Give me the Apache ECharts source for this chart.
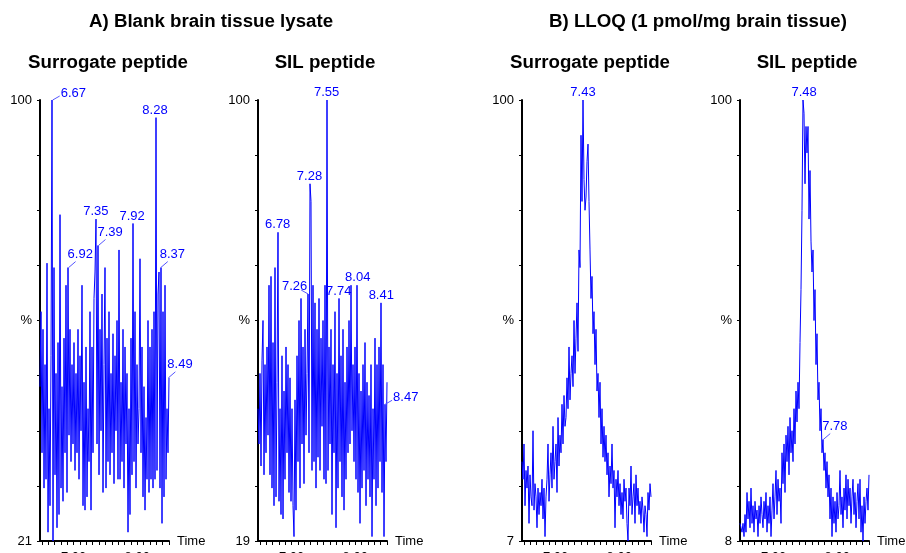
<!DOCTYPE html>
<html>
<head>
<meta charset="utf-8">
<script src="https://cdn.jsdelivr.net/npm/echarts@6/dist/echarts.min.js"></script>
<style>
  html, body { margin: 0; padding: 0; background: #fff; }
  #chart { width: 906px; height: 553px; }
</style>
</head>
<body>
<div id="chart"></div>
<script>
// scan window (min) shared by all four chromatograms
const scanStart = 6.47;
const scanEnd = 8.5;

// relative intensity, one value per scan
const blankSurrogate = [
  35, 52, 20, 48, 12, 40, 14, 63, 2, 30,
  8, 42, 100, 0, 62, 15, 38, 3, 45, 6,
  74, 12, 35, 9, 46, 20, 58, 11, 62, 24,
  48, 18, 40, 22, 45, 16, 38, 20, 48, 14,
  42, 25, 58, 8, 36, 7, 44, 10, 30, 18,
  52, 7, 44, 20, 55, 61, 73, 22, 67, 15,
  48, 25, 56, 11, 40, 62, 12, 46, 18, 52,
  15, 38, 20, 47, 13, 42, 25, 50, 14, 66,
  14, 36, 18, 48, 12, 44, 22, 38, 2, 30,
  6, 46, 15, 72, 18, 52, 12, 40, 22, 30,
  64, 20, 44, 10, 35, 7, 28, 14, 50, 11,
  44, 14, 48, 12, 52, 14, 96, 16, 56, 61,
  12, 62, 4, 52, 10, 58, 14, 30, 20, 37
];
const blankSil = [
  30, 22, 38, 17, 41, 50, 15, 40, 20, 44,
  24, 58, 15, 60, 12, 45, 8, 62, 10, 36,
  70, 9, 30, 6, 42, 5, 34, 14, 44, 20,
  40, 11, 37, 9, 30, 8, 1, 32, 7, 42,
  18, 50, 12, 55, 22, 44, 13, 48, 24, 38,
  56, 20, 81, 77, 16, 58, 18, 54, 12, 48,
  19, 55, 16, 46, 26, 50, 14, 58, 13, 100,
  16, 44, 22, 48, 6, 40, 20, 52, 3, 38,
  12, 55, 18, 42, 10, 48, 7, 36, 14, 44,
  20, 50, 22, 58, 25, 40, 18, 44, 14, 58,
  11, 38, 4, 34, 12, 40, 16, 45, 8, 36,
  14, 33, 10, 40, 1, 30, 14, 46, 8, 40,
  12, 44, 18, 54, 11, 40, 1, 31, 18, 36
];
const lloqSurrogate = [
  18, 14, 22, 8, 16, 12, 17, 4, 15, 10,
  8, 25, 7, 13, 10, 3, 12, 6, 11, 8,
  14, 5, 12, 1, 10, 14, 22, 9, 15, 20,
  12, 26, 14, 18, 22, 11, 28, 17, 24, 20,
  31, 22, 33, 26, 28, 37, 30, 44, 32, 38,
  42, 35, 50, 38, 46, 54, 43, 66, 62, 92,
  77, 100, 82, 75, 78, 86, 90, 77, 66, 55,
  60, 47, 52, 40, 48, 34, 38, 28, 36, 22,
  30, 19, 26, 18, 24, 15, 20, 10, 17, 13,
  22, 12, 16, 3, 14, 10, 16, 8, 13, 6,
  11, 5, 14, 9, 12, 4, 0, 12, 8, 17,
  6, 10, 13, 4, 15, 8, 12, 6, 9, 4,
  10, 7, 2, 8, 6, 1, 11, 7, 13, 10
];
const lloqSil = [
  4, 3, 2, 4, 1, 6, 2, 11, 5, 9,
  3, 12, 4, 8, 2, 9, 5, 7, 1, 8,
  4, 10, 6, 3, 9, 5, 11, 2, 8, 4,
  10, 1, 7, 13, 5, 10, 16, 6, 14, 9,
  12, 4, 20, 13, 22, 11, 24, 18, 26, 15,
  28, 20, 25, 18, 30, 22, 34, 27, 36, 30,
  45, 57, 75, 100, 97, 81, 94, 88, 94, 73,
  84, 68, 61, 66, 50, 57, 40, 47, 32, 36,
  25, 30, 20, 23, 16, 20, 12, 18, 10, 15,
  5, 12, 1, 10, 4, 9, 2, 11, 5, 8,
  16, 6, 10, 3, 12, 7, 15, 5, 14, 8,
  12, 4, 10, 14, 6, 11, 3, 9, 13, 5,
  14, 2, 8, 0, 10, 4, 9, 12, 7, 15
];

// labelled retention times (min)
const blankSurrogatePeaks = [6.67, 6.92, 7.35, 7.39, 7.92, 8.28, 8.37, 8.49];
const blankSilPeaks = [6.78, 7.26, 7.28, 7.55, 7.74, 8.04, 8.41, 8.47];
const lloqSurrogatePeaks = [7.43];
const lloqSilPeaks = [7.48, 7.78];

// text
const headings = ['A) Blank brain tissue lysate', 'B) LLOQ (1 pmol/mg brain tissue)'];
const panelTitles = ['Surrogate peptide', 'SIL peptide', 'Surrogate peptide', 'SIL peptide'];
const baseLabels = ['21', '19', '7', '8'];
const timeTicks = [6.5, 6.6, 6.7, 6.8, 6.9, 7.0, 7.1, 7.2, 7.3, 7.4, 7.5,
  7.6, 7.7, 7.8, 7.9, 8.0, 8.1, 8.2, 8.3, 8.4, 8.5];
const timeLabels = [7, 8];

const FONT = '"Liberation Sans", Arial, sans-serif';
const BLUE = '#0000ff';

// label placement: c = centred above, r = leader up-right, R = leader right, l = leader left
const panels = [
  { values: blankSurrogate, peaks: blankSurrogatePeaks, sides: ['R', 'r', 'c', 'r', 'c', 'c', 'r', 'r'], left: 40, title: 108 },
  { values: blankSil, peaks: blankSilPeaks, sides: ['c', 'l', 'c', 'c', 'c', 'c', 'c', 'R'], left: 258, title: 325 },
  { values: lloqSurrogate, peaks: lloqSurrogatePeaks, sides: ['c'], left: 522, title: 590 },
  { values: lloqSil, peaks: lloqSilPeaks, sides: ['c', 'r'], left: 740, title: 807 }
];

function scanTimes(values) {
  const step = (scanEnd - scanStart) / (values.length - 1);
  return values.map((_, i) => scanStart + i * step);
}

// top of the trace at a labelled time (largest of the nearest scans)
function peakHeight(values, t) {
  const step = (scanEnd - scanStart) / (values.length - 1);
  const k = Math.round((t - scanStart) / step);
  let best = 0;
  for (let j = k - 1; j <= k + 1; j++) {
    if (j >= 0 && j < values.length) best = Math.max(best, values[j]);
  }
  return best;
}

function textStyle(text, align, vAlign) {
  return {
    text, fill: BLUE, fontSize: 13, fontFamily: FONT,
    align, verticalAlign: vAlign, textAlign: align, textVerticalAlign: vAlign
  };
}

function drawPeakLabel(api, side) {
  const t = api.value(0);
  const [x, y] = api.coord([t, api.value(1)]);
  const text = t.toFixed(2);
  if (side === 'c') {
    return { type: 'text', x: x, y: y - 1, style: textStyle(text, 'center', 'bottom') };
  }
  let lead, tx, ty, align, vAlign;
  if (side === 'r') { lead = [x + 7, y - 6]; tx = x - 1; ty = y - 7; align = 'left'; vAlign = 'bottom'; }
  else if (side === 'R') { lead = [x + 7, y - 4]; tx = x + 8; ty = y - 7; align = 'left'; vAlign = 'middle'; }
  else { lead = [x - 7, y - 4]; tx = x - 1; ty = y - 1; align = 'right'; vAlign = 'bottom'; }
  return {
    type: 'group',
    children: [
      { type: 'line', shape: { x1: x, y1: y, x2: lead[0], y2: lead[1] }, style: { stroke: '#5555ff', lineWidth: 1 } },
      { type: 'text', x: tx, y: ty, style: textStyle(text, align, vAlign) }
    ]
  };
}

const chart = echarts.init(document.getElementById('chart'), null, { renderer: 'canvas' });

function heading(text, x, y) {
  return {
    type: 'text', x: x, y: y,
    style: { text, fill: '#000', fontSize: 18.7, fontWeight: 'bold', fontFamily: FONT, align: 'center', verticalAlign: 'middle', textAlign: 'center', textVerticalAlign: 'middle' }
  };
}

const graphic = [heading(headings[0], 211, 22), heading(headings[1], 698, 22)]
  .concat(panels.map((p, i) => heading(panelTitles[i], p.title, 63)));

const option = {
  animation: false,
  backgroundColor: '#fff',
  textStyle: { fontFamily: FONT },
  graphic: graphic,
  grid: panels.map(p => ({ left: p.left, width: 129, top: 100, height: 441, containLabel: false, outerBoundsMode: 'none' })),
  xAxis: panels.map((p, i) => ({
    gridIndex: i,
    type: 'value',
    min: scanStart,
    max: scanEnd,
    name: 'Time',
    nameLocation: 'end',
    nameGap: 8,
    nameTextStyle: { color: '#000', fontSize: 13, fontFamily: FONT },
    axisLine: { onZero: false, lineStyle: { color: '#000', width: 2 } },
    axisTick: { show: true, customValues: timeTicks, length: 4, lineStyle: { color: '#000' } },
    axisLabel: { customValues: timeLabels, formatter: v => v.toFixed(2), color: '#000', fontSize: 13, margin: 10 },
    splitLine: { show: false }
  })),
  yAxis: panels.map((p, i) => ({
    gridIndex: i,
    type: 'value',
    min: 0,
    max: 100,
    interval: 12.5,
    axisLine: { show: true, onZero: false, lineStyle: { color: '#000', width: 2 } },
    axisTick: { show: true, length: 3, lineStyle: { color: '#000' } },
    axisLabel: {
      color: '#000', fontSize: 13, margin: 8,
      formatter: v => (v === 100 ? '100' : v === 50 ? '%' : v === 0 ? baseLabels[i] : '')
    },
    splitLine: { show: false }
  })),
  series: panels.map((p, i) => {
    const times = scanTimes(p.values);
    return {
      type: 'line',
      xAxisIndex: i,
      yAxisIndex: i,
      data: p.values.map((v, k) => [times[k], v]),
      showSymbol: false,
      symbol: 'none',
      silent: true,
      lineStyle: { color: BLUE, width: 1 },
      itemStyle: { color: BLUE }
    };
  }).concat(panels.map((p, i) => ({
    type: 'custom',
    xAxisIndex: i,
    yAxisIndex: i,
    clip: false,
    silent: true,
    z: 5,
    data: p.peaks.map(t => [t, peakHeight(p.values, t)]),
    renderItem: (params, api) => drawPeakLabel(api, p.sides[params.dataIndex])
  })))
};

chart.setOption(option);
</script>
</body>
</html>
